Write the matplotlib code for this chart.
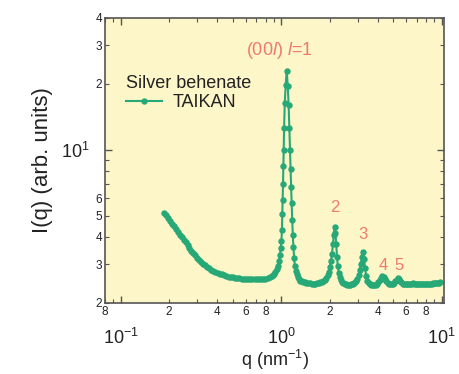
import matplotlib
matplotlib.use("Agg")
import matplotlib.pyplot as plt
from matplotlib.ticker import FuncFormatter, LogLocator
import numpy as np

plt.rcParams['font.family'] = ['Liberation Sans', 'DejaVu Sans']
plt.rcParams['mathtext.fontset'] = 'custom'
plt.rcParams['mathtext.rm'] = 'Liberation Sans'
plt.rcParams['mathtext.it'] = 'Liberation Sans:italic'

# scattering vector q (nm^-1) and intensity (arb. units)
q = [0.186, 0.192, 0.198, 0.204, 0.210, 0.216, 0.222, 0.228, 0.234, 0.240,
     0.247, 0.254, 0.261, 0.268, 0.275, 0.283, 0.291, 0.299, 0.307, 0.316,
     0.325, 0.335, 0.345, 0.355, 0.366, 0.377, 0.389, 0.401, 0.414, 0.427,
     0.441, 0.455, 0.470, 0.485, 0.500, 0.516, 0.532, 0.549, 0.566, 0.584,
     0.603, 0.622, 0.642, 0.662, 0.683, 0.705, 0.727, 0.750, 0.774, 0.798,
     0.823, 0.849, 0.870, 0.890, 0.905, 0.920, 0.935, 0.950, 0.965, 0.980,
     0.992, 1.003,
     1.010, 1.016, 1.021, 1.026, 1.031, 1.036, 1.042, 1.052, 1.066, 1.082,
     1.098, 1.112, 1.124, 1.134, 1.143, 1.152, 1.161, 1.170, 1.180, 1.191,
     1.203, 1.216, 1.230, 1.248, 1.268, 1.29, 1.315, 1.34, 1.37, 1.40,
     1.43, 1.47, 1.51, 1.55, 1.59, 1.63, 1.67, 1.71, 1.75, 1.79,
     1.83, 1.87, 1.91, 1.95, 1.98, 2.01, 2.04, 2.07, 2.10, 2.125,
     2.15, 2.175, 2.20, 2.225, 2.25, 2.28, 2.31, 2.35, 2.39, 2.43,
     2.48, 2.53, 2.58, 2.63, 2.68, 2.73, 2.78, 2.83, 2.88, 2.93,
     2.98, 3.03, 3.08, 3.13, 3.18, 3.23, 3.28, 3.33, 3.38, 3.44,
     3.50, 3.57, 3.64, 3.71, 3.79, 3.87, 3.95, 4.03, 4.11, 4.19,
     4.27, 4.35, 4.43, 4.51, 4.60, 4.69, 4.78, 4.87, 4.96, 5.05,
     5.14, 5.23, 5.32, 5.41, 5.51, 5.61, 5.72, 5.83, 5.95, 6.07,
     6.20, 6.33, 6.46, 6.59, 6.72, 6.86, 7.00, 7.15, 7.30, 7.46,
     7.62, 7.78, 7.95, 8.12, 8.29, 8.47, 8.65, 8.83, 9.02, 9.21,
     9.41, 9.61, 9.81]
intensity = [5.15, 5.02, 4.88, 4.74, 4.60, 4.47, 4.35, 4.22, 4.10, 3.98,
             3.88, 3.80, 3.68, 3.56, 3.46, 3.38, 3.30, 3.22, 3.15, 3.08,
             3.02, 2.97, 2.92, 2.88, 2.84, 2.80, 2.77, 2.74, 2.72, 2.70,
             2.68, 2.66, 2.64, 2.63, 2.62, 2.61, 2.60, 2.59, 2.58, 2.58,
             2.57, 2.57, 2.56, 2.56, 2.56, 2.56, 2.56, 2.56, 2.57, 2.58,
             2.60, 2.62, 2.65, 2.68, 2.72, 2.78, 2.86, 2.96, 3.10, 3.30,
             3.55, 3.85,
             4.30, 5.10, 5.90, 7.00, 8.40, 10.0, 12.6, 16.4, 19.8, 23.0,
             19.6, 16.0, 12.6, 10.0, 8.2, 6.8, 5.7, 4.8, 4.1, 3.6,
             3.2, 2.95, 2.80, 2.70, 2.62, 2.57, 2.53, 2.51, 2.49, 2.48,
             2.47, 2.46, 2.46, 2.45, 2.45, 2.45, 2.46, 2.47, 2.48, 2.50,
             2.52, 2.55, 2.60, 2.68, 2.78, 2.92, 3.10, 3.35, 3.70, 4.10,
             4.45, 4.15, 3.70, 3.25, 2.95, 2.75, 2.62, 2.54, 2.49, 2.46,
             2.44, 2.43, 2.42, 2.42, 2.42, 2.43, 2.44, 2.46, 2.48, 2.52,
             2.58, 2.68, 2.82, 3.02, 3.25, 3.42, 3.18, 2.88, 2.66, 2.53,
             2.47, 2.44, 2.42, 2.41, 2.41, 2.42, 2.44, 2.48, 2.54, 2.60,
             2.65, 2.63, 2.57, 2.51, 2.47, 2.45, 2.44, 2.43, 2.44, 2.47,
             2.51, 2.55, 2.59, 2.58, 2.53, 2.48, 2.45, 2.44, 2.43, 2.43,
             2.43, 2.44, 2.45, 2.46, 2.45, 2.44, 2.43, 2.43, 2.43, 2.44,
             2.45, 2.45, 2.44, 2.44, 2.44, 2.45, 2.45, 2.46, 2.46, 2.46,
             2.47, 2.47, 2.48]

# peak annotations (order labels)
peak_labels = [r'(00$\it{l}$) $\it{l}$=1', '2', '3', '4', '5']
peak_q = [0.97, 2.15, 3.23, 4.30, 5.40]
peak_i = [28.5, 5.45, 4.1, 2.95, 2.95]
peak_size = [13, 12, 12, 12, 12]

green = '#27a877'
red = '#f07a70'
ink = '#222222'

fig = plt.figure(figsize=(4.59, 3.74), dpi=100)
ax = fig.add_axes([0.229, 0.19, 0.738, 0.762])
ax.set_facecolor('#fcf6c9')

ax.plot(q, intensity, '-o', color=green, lw=1.5, ms=4.6, mew=0,
        label='TAIKAN')

ax.set_xscale('log')
ax.set_yscale('log')
ax.set_xlim(0.08, 10.3)
ax.set_ylim(2, 40)

for lab, xq, yi, fs in zip(peak_labels, peak_q, peak_i, peak_size):
    ax.text(xq, yi, lab, color=red, fontsize=fs, ha='center', va='center')


def minor_fmt(keep):
    def f(v, pos):
        m = v / 10 ** np.floor(np.log10(v) + 1e-9)
        d = int(round(m))
        return str(d) if d in keep else ''
    return f


ax.xaxis.set_minor_locator(LogLocator(base=10, subs=np.arange(2, 10)))
ax.yaxis.set_minor_locator(LogLocator(base=10, subs=np.arange(2, 10)))
ax.xaxis.set_minor_formatter(FuncFormatter(minor_fmt((2, 4, 6, 8))))
ax.yaxis.set_minor_formatter(FuncFormatter(minor_fmt((2, 3, 4, 5, 6))))

ax.tick_params(which='both', direction='in', top=True, right=True,
               color='#555555', labelcolor=ink)
ax.tick_params(which='major', length=5, width=1, labelsize=13)
ax.tick_params(which='minor', length=3, width=0.8, labelsize=8.5, pad=2)
ax.tick_params(axis='x', which='major', pad=18)
ax.tick_params(axis='y', which='major', pad=11)

for s in ax.spines.values():
    s.set_color('#555555')
    s.set_linewidth(1.2)

ax.set_xlabel(r'q (nm$^{-1}$)', fontsize=13, color=ink, labelpad=0)
ax.set_ylabel('I(q) (arb. units)', fontsize=16, color=ink, labelpad=6)

leg = ax.legend(title='Silver behenate', loc='upper left',
                bbox_to_anchor=(0.035, 0.83), frameon=False, fontsize=13,
                title_fontsize=13, handlelength=2.0, handletextpad=0.6,
                borderpad=0.0, labelspacing=0.1, alignment='left')
leg.get_title().set_color(ink)
for t in leg.get_texts():
    t.set_color(ink)

fig.savefig('out.png', dpi=100)
